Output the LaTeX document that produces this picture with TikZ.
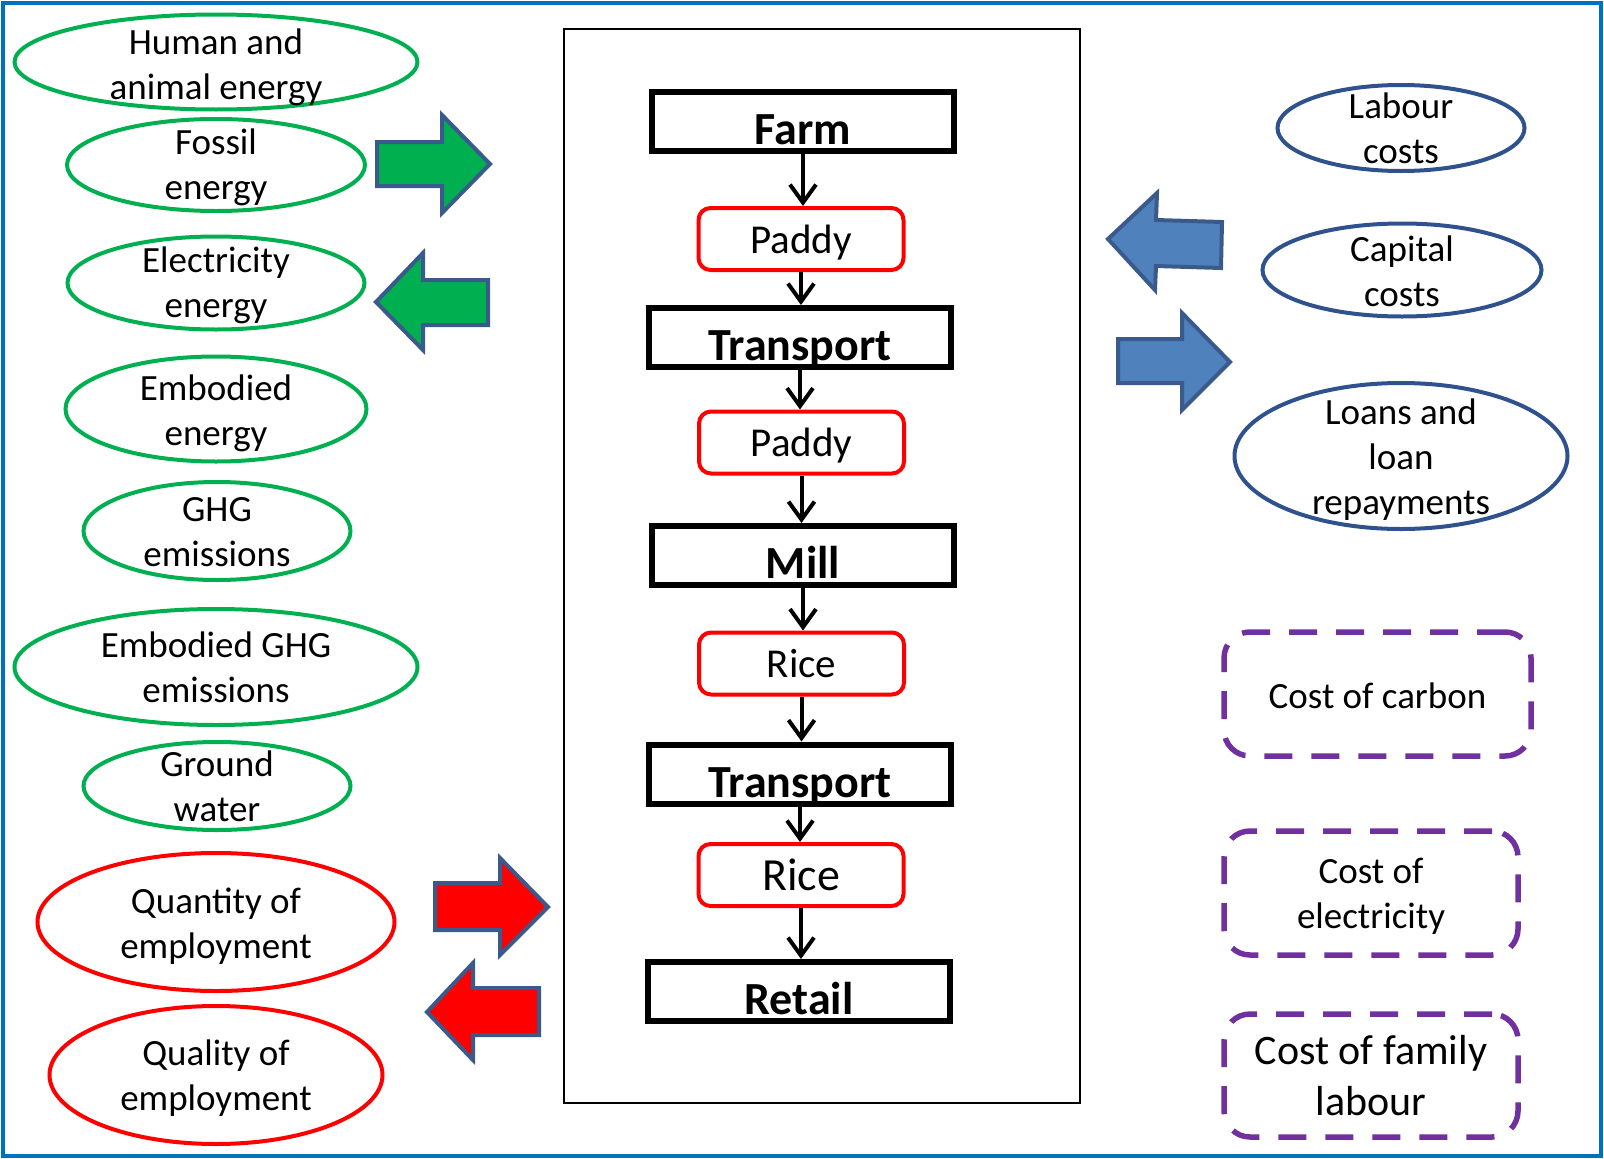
\documentclass[tikz,border=0pt]{standalone}
\usepackage{fontspec}
\setmainfont{Carlito}
\usetikzlibrary{shapes.geometric,arrows.meta}
\definecolor{frameblue}{RGB}{0,112,192}
\definecolor{ellgreen}{RGB}{0,176,80}
\definecolor{ellred}{RGB}{255,0,0}
\definecolor{ellblue}{RGB}{47,82,143}
\definecolor{arrowedge}{RGB}{58,90,140}
\definecolor{arrowblue}{RGB}{79,129,189}
\definecolor{costpurple}{RGB}{112,48,160}
\begin{document}
\begin{tikzpicture}[x=1pt,y=-1pt,
  txt/.style={font=\fontsize{37}{45}\selectfont, align=center, text=black, inner sep=0pt},
  ellbase/.style={ellipse, line width=4pt, inner sep=0pt},
  greenell/.style={ellbase, draw=ellgreen},
  redell/.style={ellbase, draw=ellred},
  blueell/.style={ellbase, draw=ellblue},
  flowbox/.style={draw=black, line width=6pt, inner sep=0pt, minimum width=302pt, minimum height=59pt,
     font=\fontsize{46}{50}\selectfont\bfseries, text height=46pt, text depth=0pt},
  prodbox/.style={draw=ellred, line width=4pt, rounded corners=12pt, inner sep=0pt, minimum width=205pt, minimum height=62pt,
     font=\fontsize{41}{45}\selectfont},
  costbox/.style={draw=costpurple, line width=5.5pt, dash pattern=on 28pt off 19pt, rounded corners=26pt, inner sep=0pt},
  flowarrow/.style={line width=4pt, -{Straight Barb[length=18pt,width=26pt,line width=4pt]}},
  blockarrow/.style={draw=arrowedge, line width=4pt, line join=miter}
]
\useasboundingbox (0,0) rectangle (1604,1159);
% outer frame
\draw[frameblue, line width=4pt] (3,3) rectangle (1601,1156);
% central frame
\draw[black, line width=1.5pt] (564,29) rectangle (1080,1103);

% flow chain
\node[flowbox] (farm) at (803,121.5) {Farm};
\node[prodbox, text depth=0pt] (p1) at (801,239) {Paddy};
\node[flowbox] (t1) at (800,337.5) {Transport};
\node[prodbox, text depth=0pt] (p2) at (801.5,442.5) {Paddy};
\node[flowbox] (mill) at (803,555.5) {Mill};
\node[prodbox] (r1) at (801.5,663.5) {Rice};
\node[flowbox] (t2) at (800,774) {Transport};
\node[prodbox, font=\fontsize{46}{50}\selectfont] (r2) at (801,875) {Rice};
\node[flowbox] (retail) at (799,991.5) {Retail};

\draw[flowarrow] (farm.south) -- (farm.south |- p1.north);
\draw[flowarrow] (p1.south) -- (p1.south |- t1.north);
\draw[flowarrow] (t1.south) -- (t1.south |- p2.north);
\draw[flowarrow] (p2.south) -- (p2.south |- mill.north);
\draw[flowarrow] (mill.south) -- (mill.south |- r1.north);
\draw[flowarrow] (r1.south) -- (r1.south |- t2.north);
\draw[flowarrow] (t2.south) -- (t2.south |- r2.north);
\draw[flowarrow] (r2.south) -- (r2.south |- retail.north);

% left ellipses
\node[greenell, minimum width=403pt, minimum height=95pt] (human) at (216,62) {};
\node[txt, yshift=-5pt] (humant) at (human) {Human and\\animal energy};
\node[greenell, minimum width=298pt, minimum height=92pt] (fossil) at (216,165) {};
\node[txt, yshift=-2pt] (fossilt) at (fossil) {Fossil\\energy};
\node[greenell, minimum width=297pt, minimum height=93pt] (elec) at (216,283) {};
\node[txt, yshift=-2pt] (elect) at (elec) {Electricity\\energy};
\node[greenell, minimum width=301pt, minimum height=105pt] (embod) at (216,409) {};
\node[txt, yshift=-4pt] (embodt) at (embod) {Embodied\\energy};
\node[greenell, minimum width=267pt, minimum height=98pt] (ghg) at (217,531) {};
\node[txt, yshift=-1pt] (ghgt) at (ghg) {GHG\\emissions};
\node[greenell, minimum width=403pt, minimum height=116pt] (eghg) at (216,667) {};
\node[txt] (eghgt) at (eghg) {Embodied GHG\\emissions};
\node[greenell, minimum width=267pt, minimum height=88pt] (water) at (217,786) {};
\node[txt] (watert) at (water) {Ground\\water};
\node[redell, minimum width=357pt, minimum height=138pt] (quant) at (216,922) {};
\node[txt, yshift=-4pt] (quantt) at (quant) {Quantity of\\employment};
\node[redell, minimum width=333pt, minimum height=138pt] (qual) at (216,1075) {};
\node[txt, yshift=-3pt] (qualt) at (qual) {Quality of\\employment};

% right ellipses
\node[blueell, minimum width=247pt, minimum height=86pt] (labour) at (1401,128) {};
\node[txt] (labourt) at (labour) {Labour\\costs};
\node[blueell, minimum width=279pt, minimum height=93pt] (capital) at (1402,270) {};
\node[txt, yshift=-1.5pt] (capitalt) at (capital) {Capital\\costs};
\node[blueell, minimum width=333pt, minimum height=146pt] (loans) at (1401,456) {};
\node[txt, yshift=-4pt] (loanst) at (loans) {Loans and\\loan\\repayments};

% cost boxes
\node[costbox, minimum width=307pt, minimum height=124pt] (carbon) at (1377.5,694) {};
\node[txt, yshift=-2pt] (carbont) at (carbon) {Cost of carbon};
\node[costbox, minimum width=294pt, minimum height=124pt] (celec) at (1371,893) {};
\node[txt, yshift=-3pt] (celect) at (celec) {Cost of\\electricity};
\node[costbox, minimum width=294pt, minimum height=123pt] (family) at (1371,1075.5) {};
\node[txt, font=\fontsize{42}{51}\selectfont] (familyt) at (family) {Cost of family\\labour};

% block arrows
\filldraw[blockarrow, fill=ellgreen] (377,142) -- (442,142) -- (442,115) -- (490,164) -- (442,213) -- (442,186) -- (377,186) -- cycle;
\filldraw[blockarrow, fill=ellgreen] (488,280) -- (423,280) -- (423,253) -- (376,302) -- (423,350) -- (423,325) -- (488,325) -- cycle;
\filldraw[blockarrow, fill=arrowblue] (1222,222) -- (1156,220) -- (1157,193) -- (1108,239) -- (1155,290) -- (1156,266) -- (1221,268) -- cycle;
\filldraw[blockarrow, fill=arrowblue] (1118,339) -- (1182,339) -- (1182,313) -- (1230,362) -- (1182,410) -- (1182,383) -- (1118,383) -- cycle;
\filldraw[blockarrow, fill=ellred] (435,883) -- (500,883) -- (500,858) -- (548,907) -- (500,955) -- (500,930) -- (435,930) -- cycle;
\filldraw[blockarrow, fill=ellred] (539,988) -- (473,988) -- (473,963) -- (427,1012) -- (473,1060) -- (473,1035) -- (539,1035) -- cycle;
\end{tikzpicture}
\end{document}
